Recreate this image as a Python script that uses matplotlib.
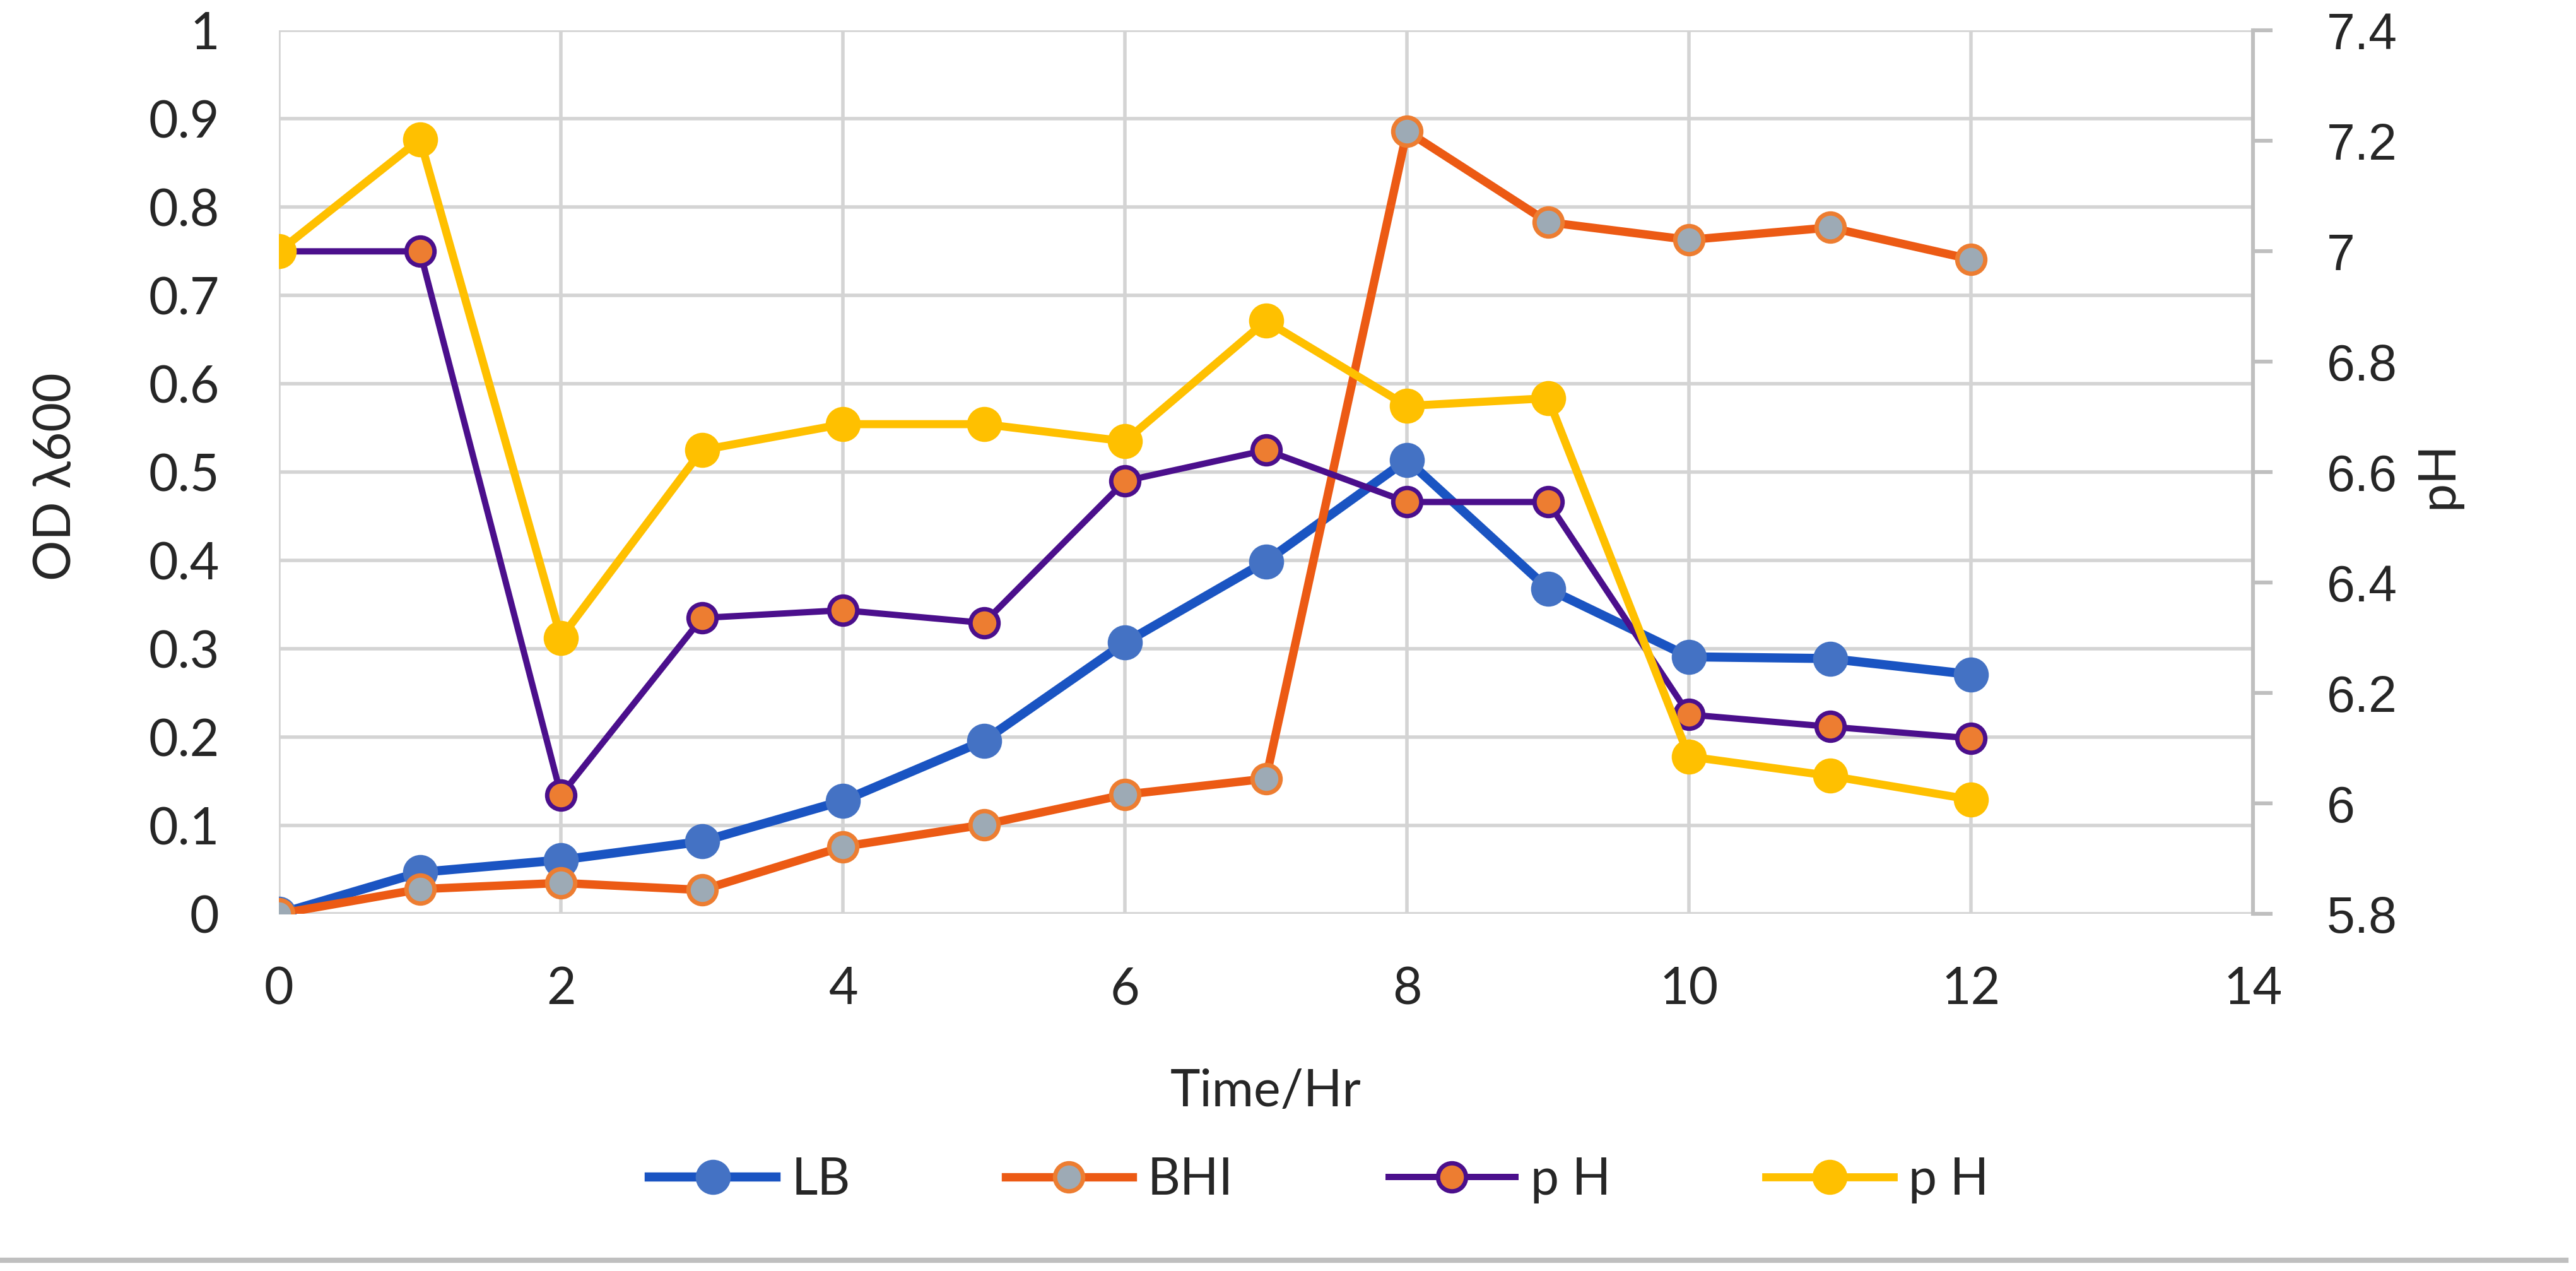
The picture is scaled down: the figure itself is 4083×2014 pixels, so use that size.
import matplotlib
matplotlib.use("Agg")
import matplotlib.pyplot as plt
from matplotlib.lines import Line2D
from matplotlib.ticker import FuncFormatter
import numpy as np

# data
hours = [0, 1, 2, 3, 4, 5, 6, 7, 8, 9, 10, 11, 12]
od_lb = [0.0, 0.047, 0.061, 0.082, 0.128, 0.196, 0.307, 0.399, 0.514, 0.368, 0.291, 0.289, 0.271]
od_bhi = [0.0, 0.028, 0.035, 0.027, 0.076, 0.101, 0.135, 0.153, 0.886, 0.783, 0.763, 0.777, 0.741]
ph_lb = [7.0, 7.0, 6.015, 6.336, 6.35, 6.327, 6.584, 6.64, 6.546, 6.546, 6.161, 6.139, 6.118]
ph_bhi = [7.0, 7.203, 6.30, 6.64, 6.687, 6.687, 6.656, 6.874, 6.72, 6.734, 6.085, 6.05, 6.007]

x_ticks = np.arange(0, 15, 2)
od_ticks = np.round(np.arange(0, 1.01, 0.1), 1)
ph_ticks = np.round(np.arange(5.8, 7.41, 0.2), 1)

plt.rcParams['font.family'] = ['Lato', 'DejaVu Sans']
txt = '#262626'
fs = 29

fig = plt.figure(figsize=(20.415, 10.07), dpi=200)
ax = fig.add_axes([0.1083, 0.281, 0.7663, 0.695])
ax2 = ax.twinx()

ax.plot(hours, od_lb, color='#1A54C2', lw=5.2, marker='o', ms=19,
        mfc='#4472C4', mec='#4472C4', label='LB', zorder=3)
ax.plot(hours, od_bhi, color='#EC5A14', lw=4.8, marker='o', ms=16,
        mfc='#9DAAB5', mec='#ED7D31', mew=2.5, label='BHI', zorder=4)
ax2.plot(hours, ph_lb, color='#4B0F8C', lw=3.6, marker='o', ms=16,
         mfc='#ED7D31', mec='#4B0F8C', mew=2.5, label='p H', zorder=3)
ax2.plot(hours, ph_bhi, color='#FFC000', lw=4.6, marker='o', ms=19,
         mfc='#FFC000', mec='#FFC000', label='p H', zorder=4)

ax.set_xlim(0, 14)
ax.set_ylim(0, 1)
ax2.set_ylim(5.8, 7.4)
ax.set_xticks(x_ticks)
ax.set_yticks(od_ticks)
ax2.set_yticks(ph_ticks)
fmt = FuncFormatter(lambda v, p: '%g' % round(v, 1))
ax.yaxis.set_major_formatter(fmt)
ax2.yaxis.set_major_formatter(fmt)

ax.grid(True, color='#D4D4D4', lw=2)
ax.set_axisbelow(True)
for s in ax.spines.values():
    s.set_visible(False)
for s in ['left', 'top', 'bottom']:
    ax2.spines[s].set_visible(False)
ax2.spines['right'].set_color('#BFBFBF')
ax2.spines['right'].set_linewidth(2.2)

ax.tick_params(axis='y', length=0, pad=34, labelsize=fs, labelcolor=txt)
ax.tick_params(axis='x', length=0, pad=30, labelsize=fs, labelcolor=txt)
ax2.tick_params(axis='y', direction='out', length=11, width=2.2, color='#BFBFBF',
                pad=31, labelsize=fs, labelcolor=txt)
for lbl in ax2.get_yticklabels():
    lbl.set_family(['Liberation Sans', 'DejaVu Sans'])

ax.set_xlabel('Time/Hr', fontsize=fs, color=txt)
ax.xaxis.set_label_coords(0.5, -0.175)
ax.set_ylabel('OD λ600', fontsize=fs, color=txt)
ax.yaxis.set_label_coords(-0.101, 0.495)
ax2.set_ylabel('pH', fontsize=fs, color=txt, rotation=90)
ax2.yaxis.set_label_coords(1.082, 0.497)

h1, l1 = ax.get_legend_handles_labels()
h2, l2 = ax2.get_legend_handles_labels()
fig.legend(h1 + h2, l1 + l2, loc='center', bbox_to_anchor=(0.512, 0.0715), ncol=4,
           frameon=False, fontsize=fs, labelcolor=txt, handlelength=2.5,
           handletextpad=0.3, columnspacing=3.05)

fig.add_artist(Line2D([0.0, 0.996], [0.0084, 0.0084], transform=fig.transFigure,
                      color='#BFBFBF', lw=3))

fig.savefig('out.png', dpi=200)
